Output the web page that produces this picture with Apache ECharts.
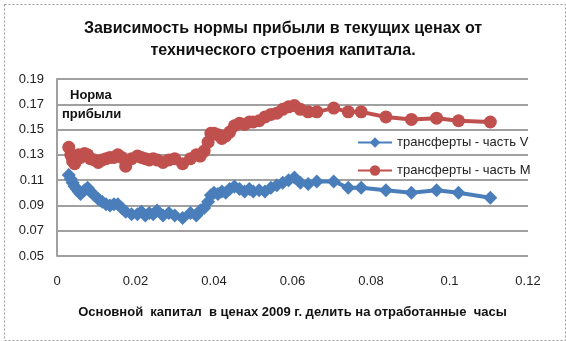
<!DOCTYPE html>
<html><head><meta charset="utf-8">
<script src="https://cdn.jsdelivr.net/npm/echarts@6/dist/echarts.min.js"></script>
<style>html,body{margin:0;padding:0;background:#fff}#c{width:566px;height:341px}</style>
</head><body><div id="c"></div>
<script>
var xValues = [0.0030,0.0035,0.0040,0.0045,0.0050,0.0055,0.0060,0.0070,0.0078,0.0085,0.0095,0.0105,0.0115,0.0125,0.0135,0.0145,0.0155,0.0165,0.0175,0.0190,0.0205,0.0215,0.0225,0.0235,0.0245,0.0255,0.0270,0.0285,0.0300,0.0320,0.0340,0.0355,0.0365,0.0375,0.0385,0.0392,0.0400,0.0410,0.0420,0.0430,0.0440,0.0452,0.0465,0.0478,0.0490,0.0500,0.0515,0.0530,0.0545,0.0560,0.0575,0.0590,0.0605,0.0620,0.0640,0.0662,0.0705,0.0742,0.0775,0.0838,0.0903,0.0967,0.1023,0.1104];
var seriesV = [0.114,0.111,0.108,0.105,0.103,0.101,0.099,0.102,0.104,0.101,0.098,0.095,0.093,0.091,0.090,0.091,0.091,0.088,0.085,0.083,0.083,0.085,0.082,0.084,0.083,0.086,0.082,0.084,0.082,0.080,0.084,0.082,0.086,0.088,0.093,0.098,0.100,0.099,0.101,0.100,0.103,0.105,0.103,0.101,0.103,0.101,0.102,0.101,0.104,0.106,0.108,0.110,0.112,0.108,0.107,0.109,0.109,0.104,0.104,0.102,0.100,0.102,0.100,0.096];
var seriesM = [0.136,0.130,0.125,0.123,0.127,0.130,0.128,0.131,0.130,0.127,0.126,0.124,0.126,0.127,0.128,0.128,0.130,0.128,0.121,0.127,0.129,0.128,0.127,0.126,0.127,0.126,0.124,0.126,0.127,0.123,0.127,0.130,0.129,0.133,0.140,0.147,0.147,0.146,0.143,0.145,0.148,0.153,0.155,0.154,0.156,0.156,0.157,0.160,0.162,0.163,0.166,0.168,0.169,0.166,0.164,0.164,0.167,0.164,0.164,0.160,0.158,0.159,0.157,0.156];
var seriesNames = ['трансферты - часть V','трансферты - часть M'];
var titleLines = ['Зависимость нормы прибыли в текущих ценах от','технического строения капитала.'];
var xAxisTitle = 'Основной  капитал  в ценах 2009 г. делить на отработанные  часы';
var yAxisTitle = ['Норма','прибыли'];

function pairs(xs, ys){ return xs.map(function(x,i){return [x, ys[i]];}); }
var font = '"Liberation Sans", Arial, sans-serif';
var chart = echarts.init(document.getElementById('c'), null, {renderer:'canvas'});
chart.setOption({
  animation:false,
  backgroundColor:'#fff',
  title:{text:titleLines.join('\n'), left:'center', top:13,
    textStyle:{fontFamily:font, fontSize:16, fontWeight:'bold', color:'#111', lineHeight:22}},
  grid:{left:57, right:38, top:79, bottom:85},
  legend:{orient:'vertical', left:352, top:131, itemGap:15, itemWidth:34, itemHeight:13,
    textStyle:{fontFamily:font, fontSize:13, color:'#222'},
    data:seriesNames},
  xAxis:{type:'value', min:0, max:0.12, interval:0.02,
    name:xAxisTitle, nameLocation:'middle', nameGap:50,
    nameTextStyle:{fontFamily:font, fontSize:13, fontWeight:'bold', color:'#111'},
    axisLine:{show:false}, axisTick:{show:false}, splitLine:{show:false},
    axisLabel:{fontFamily:font, fontSize:13, color:'#222', margin:19,
      formatter:function(v){return String(parseFloat(v.toFixed(2)));}}},
  yAxis:{type:'value', min:0.05, max:0.19, interval:0.02,
    axisLine:{show:true, lineStyle:{color:'#a0a0a0', width:2}}, axisTick:{show:false},
    splitLine:{show:true, lineStyle:{color:'#a0a0a0', width:2}},
    axisLabel:{fontFamily:font, fontSize:13, color:'#222', margin:13,
      formatter:function(v){return v.toFixed(2);}}},
  graphic:[
    {type:'rect', left:2, top:2, shape:{width:561, height:336},
      style:{fill:'none', stroke:'#999', lineWidth:1, lineDash:[2,2]}, z:100},
    {type:'text', left:70, top:89, style:{text:yAxisTitle[0], font:'bold 13px '+font, fill:'#111'}},
    {type:'text', left:62, top:108, style:{text:yAxisTitle[1], font:'bold 13px '+font, fill:'#111'}}
  ],
  series:[
    {name:seriesNames[0], type:'line', data:pairs(xValues, seriesV), symbol:'diamond', symbolSize:14,
      itemStyle:{color:'#4a7ebb'}, lineStyle:{color:'#4a7ebb', width:4}, z:3},
    {name:seriesNames[1], type:'line', data:pairs(xValues, seriesM), symbol:'circle', symbolSize:13,
      itemStyle:{color:'#c0504d'}, lineStyle:{color:'#c0504d', width:4}, z:2}
  ]
});
</script></body></html>
